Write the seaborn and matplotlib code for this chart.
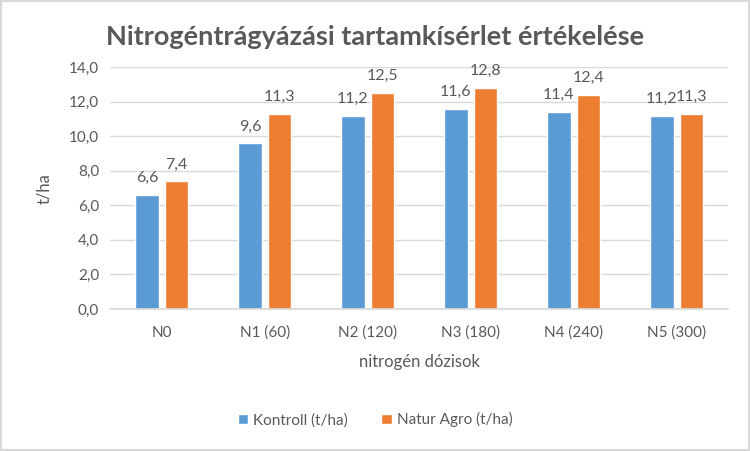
import matplotlib
matplotlib.use('Agg')
import matplotlib.pyplot as plt
import seaborn as sns
import pandas as pd
from matplotlib.patches import Rectangle

categories = ['N0', 'N1 (60)', 'N2 (120)', 'N3 (180)', 'N4 (240)', 'N5 (300)']
kontroll = [6.6, 9.6, 11.2, 11.6, 11.4, 11.2]
natur_agro = [7.4, 11.3, 12.5, 12.8, 12.4, 11.3]
series_names = ['Kontroll (t/ha)', 'Natur Agro (t/ha)']
y_ticks = [0, 2, 4, 6, 8, 10, 12, 14]

df = pd.DataFrame({
    'dozis': categories * 2,
    'ertek': kontroll + natur_agro,
    'sorozat': [series_names[0]] * len(categories) + [series_names[1]] * len(categories),
})

sns.set_theme(style="white")
plt.rcParams['font.family'] = ['Lato', 'DejaVu Sans']
text_color = '#595959'

fig = plt.figure(figsize=(7.5, 4.51), dpi=100)
ax = fig.add_axes([0.147, 0.315, 0.824, 0.536])

sns.barplot(data=df, x='dozis', y='ertek', hue='sorozat', order=categories,
            hue_order=series_names, palette=['#5B9BD5', '#ED7D31'],
            width=0.573, gap=0.22, ax=ax, legend=True, saturation=1)

# value labels with decimal comma
for container in ax.containers:
    ax.bar_label(container, labels=[f'{v:.1f}'.replace('.', ',') for v in container.datavalues],
                 padding=7, fontsize=11.5, color=text_color)

ax.set_ylim(0, 14)
ax.set_yticks(y_ticks)
ax.set_yticklabels([f'{t:.1f}'.replace('.', ',') for t in y_ticks])
ax.set_xlim(-0.5, len(categories) - 0.5)
ax.yaxis.grid(True, color='#D9D9D9', linewidth=1)
ax.set_axisbelow(True)
for side in ['top', 'right', 'left']:
    ax.spines[side].set_visible(False)
ax.spines['bottom'].set_color('#D9D9D9')
ax.tick_params(axis='both', length=0, labelsize=11, labelcolor=text_color)
ax.tick_params(axis='x', pad=12)
ax.tick_params(axis='y', pad=8)

ax.set_xlabel('nitrogén dózisok', fontsize=12, color=text_color, labelpad=10)
ax.set_ylabel('t/ha', fontsize=12, color=text_color, labelpad=12)

fig.text(0.5, 0.918, 'Nitrogéntrágyázási tartamkísérlet értékelése', ha='center', va='center',
         fontsize=19.5, fontweight='bold', color=text_color)

handles, labels = ax.get_legend_handles_labels()
ax.get_legend().remove()
fig.legend(handles, labels, loc='center', bbox_to_anchor=(0.5, 0.069), ncol=2, frameon=False,
           fontsize=11, labelcolor=text_color, handlelength=0.7, handleheight=0.7,
           handletextpad=0.3, columnspacing=2.2)

fig.patches.append(Rectangle((0, 0), 1, 1, transform=fig.transFigure, fill=False,
                             edgecolor='#D9D9D9', linewidth=3))

plt.savefig('out.png', dpi=100)
plt.close()
